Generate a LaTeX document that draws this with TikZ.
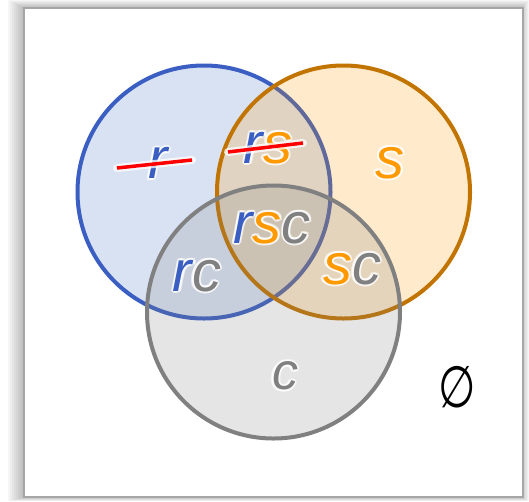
\documentclass[tikz,border=0pt]{standalone}
\usepackage{fontspec}
\setmainfont{Liberation Sans}
\newfontfamily\symfont{DejaVu Sans}
\definecolor{rblue}{HTML}{3A5EC2}
\definecolor{sorange}{HTML}{FF9900}
\definecolor{sorangedark}{HTML}{C27400}
\definecolor{cgray}{HTML}{808080}
\definecolor{cfill}{HTML}{808080}
\definecolor{bfill}{HTML}{4472C4}
\definecolor{framegray}{HTML}{A6A6A6}
\newcommand\lc[2]{\textcolor{#1}{#2}}
\newcommand\glowcol[2]{\textcolor{white}{#2}}
\tikzset{
  lbl/.style={inner sep=0pt,font=\itshape\fontsize{58}{60}\selectfont},
  setcircle/.style={line width=4pt,fill opacity=0.2},
  strike/.style={draw=red,line width=3.5pt},
  strikeglow/.style={draw=white,line width=8pt,opacity=0.75,line cap=round},
}
\newcommand\glowlabel[4][]{% [extra style] position, name, content
  \foreach \a in {0,45,...,315}{%
    \node[lbl,#1,opacity=0.6,shift={(\a:2.2)}] at (#2) {\let\lc\glowcol #4};
  }
  \node[lbl,#1] (#3) at (#2) {#4};
}
\begin{document}
\begin{tikzpicture}[x=1pt,y=-1pt]
\useasboundingbox (0,0) rectangle (529,501);
% shadow
\foreach \i in {0,...,7}{
  \fill[black,opacity=0.035] (8+\i*2,0+\i) rectangle (529-\i,501-\i*0.5);
}
% frame
\node[draw=framegray,line width=2pt,fill=white,minimum width=499pt,minimum height=489pt,inner sep=0pt,anchor=north west] (frame) at (23,7) {};
% circles
\node[setcircle,draw=rblue,fill=bfill,circle,minimum size=253pt,inner sep=0pt] (R) at (204,192) {};
\node[setcircle,draw=sorangedark,fill=sorange,circle,minimum size=253pt,inner sep=0pt] (S) at (343.5,192) {};
\node[setcircle,draw=cgray,fill=cfill,circle,minimum size=253pt,inner sep=0pt] (C) at (273.5,312) {};
% labels
\glowlabel{158,163}{lr}{\lc{rblue}{r}}
\glowlabel{268,148}{lrs}{\lc{rblue}{r}\lc{sorange}{s}}
\glowlabel{390,163}{ls}{\lc{sorange}{s}}
\glowlabel{272,228}{lrsc}{\lc{rblue}{r}\lc{sorange}{s}\lc{cgray}{c}}
\glowlabel{197,276}{lrc}{\lc{rblue}{r}\lc{cgray}{c}}
\glowlabel{352,269}{lsc}{\lc{sorange}{s}\lc{cgray}{c}}
\glowlabel[font=\itshape\fontsize{52}{54}\selectfont]{285,376}{lc}{\lc{cgray}{c}}
\node[inner sep=0pt,font=\symfont\fontsize{58}{60}\selectfont,xscale=0.74] (empty) at (457,387) {∅};
% strike-throughs
\coordinate (a1) at (117,168);
\coordinate (a2) at (192,160);
\coordinate (b1) at (228,152);
\coordinate (b2) at (303,143);
\draw[strikeglow] (a1) -- (a2);
\draw[strike] (a1) -- (a2);
\draw[strikeglow] (b1) -- (b2);
\draw[strike] (b1) -- (b2);
\end{tikzpicture}
\end{document}
